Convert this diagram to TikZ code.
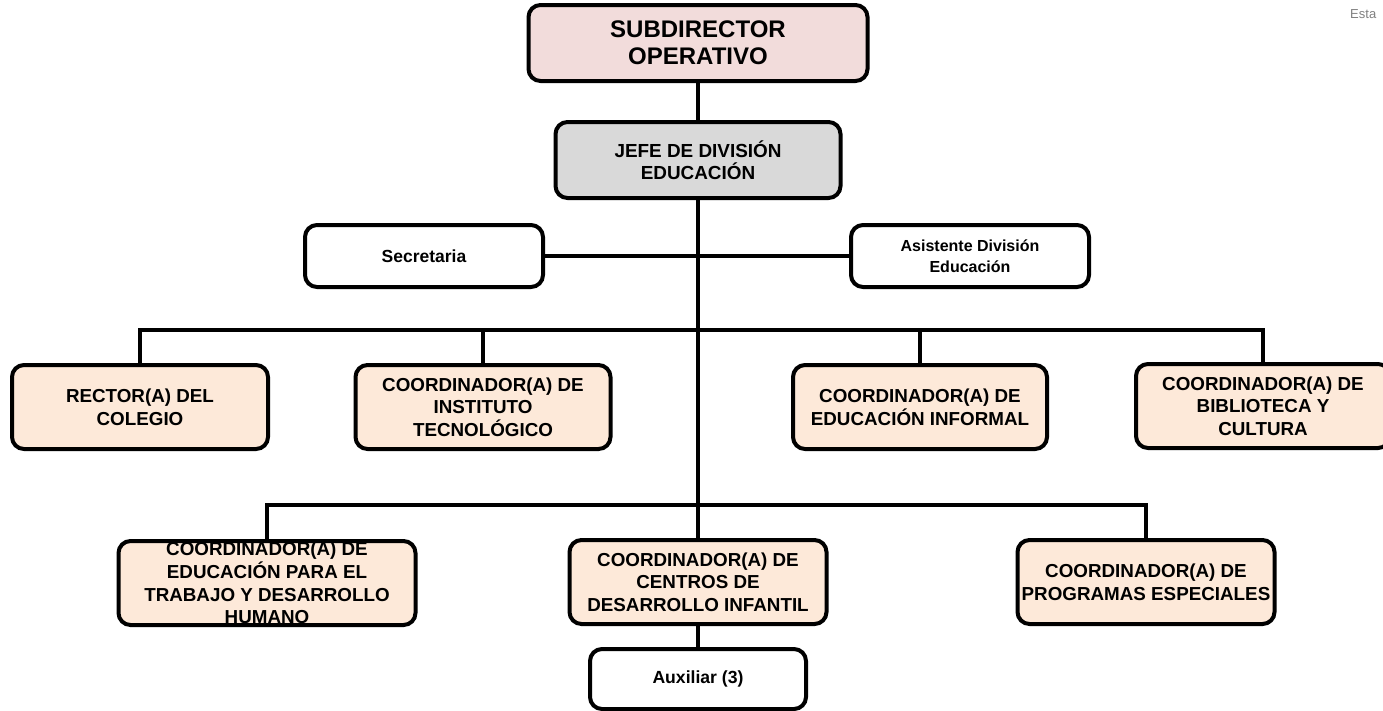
\documentclass[tikz,border=0pt]{standalone}
\usepackage{fontspec}
\setmainfont{Liberation Sans}
\definecolor{rosa}{HTML}{F2DCDB}
\definecolor{gris}{HTML}{D9D9D9}
\definecolor{durazno}{HTML}{FDE9D9}
\begin{document}
\begin{tikzpicture}
[
    x=1pt, y=-1pt,
    cargo/.style={draw, line width=4pt, rounded corners=12pt, fill=durazno, align=center,
        inner sep=0pt, minimum height=84pt, font=\bfseries\fontsize{18.8}{22.7}\selectfont},
    apoyo/.style={cargo, fill=white, minimum height=62pt, font=\bfseries\fontsize{16}{21.5}\selectfont},
    linea/.style={line width=4pt},
]
\useasboundingbox (0,0) rectangle (1383,710);
\clip (0,0) rectangle (1383,710);
% cabeza
\node [cargo, fill=rosa, minimum width=339pt, minimum height=76pt,
    font=\bfseries\fontsize{24}{27}\selectfont] (sub) at (698,43)
{SUBDIRECTOR\\OPERATIVO};
\node [cargo, fill=gris, minimum width=285pt, minimum height=76pt,
    font=\bfseries\fontsize{18.9}{22.5}\selectfont] (jefe) at (698,160)
{JEFE DE DIVISIÓN\\EDUCACIÓN};
% apoyo
\node [apoyo, minimum width=238pt, font=\bfseries\fontsize{17.5}{21.5}\selectfont] (secre) at (424,256) {Secretaria};
\node [apoyo, minimum width=238pt] (asis) at (970,256) {Asistente División\\Educación};
% primer nivel
\node [cargo, minimum width=256pt] (rector) at (140,407) {RECTOR(A) DEL\\COLEGIO};
\node [cargo, minimum width=255pt] (instit) at (483,407)
{COORDINADOR(A) DE\\INSTITUTO\\TECNOLÓGICO};
\node [cargo, minimum width=254pt] (inform) at (920,407)
{COORDINADOR(A) DE\\EDUCACIÓN INFORMAL};
\node [cargo, minimum width=254pt] (biblio) at (1263,406)
{COORDINADOR(A) DE\\BIBLIOTECA Y\\CULTURA};
% segundo nivel
\node [cargo, minimum width=297pt] (trabajo) at (267,583)
{COORDINADOR(A) DE\\EDUCACIÓN PARA EL\\TRABAJO Y DESARROLLO\\HUMANO};
\node [cargo, minimum width=257pt] (cendi) at (698,582)
{COORDINADOR(A) DE\\CENTROS DE\\DESARROLLO INFANTIL};
\node [cargo, minimum width=257pt] (progr) at (1146,582)
{COORDINADOR(A) DE\\PROGRAMAS ESPECIALES};
\node [apoyo, minimum width=216pt, minimum height=60pt,
    font=\bfseries\fontsize{17.6}{21}\selectfont] (aux) at (698,679) {Auxiliar (3)};
\node [anchor=west, text=gray, inner sep=0pt, font=\fontsize{13}{15}\selectfont] (nota) at (1350,14) {Esta};
% lineas
\coordinate (bus1) at (698,330);
\coordinate (bus2) at (698,505);
\draw [linea] (sub.south) -- (jefe.north);
\draw [linea] (jefe.south) -- (cendi.north);
\draw [linea] (cendi.south) -- (aux.north);
\draw [linea] (secre.east) -- (asis.west);
\draw [linea] (rector.north) |- (bus1) -| (biblio.north);
\draw [linea] (instit.north) -- (instit.north |- bus1);
\draw [linea] (inform.north) -- (inform.north |- bus1);
\draw [linea] (trabajo.north) |- (bus2) -| (progr.north);
\end{tikzpicture}
\end{document}
